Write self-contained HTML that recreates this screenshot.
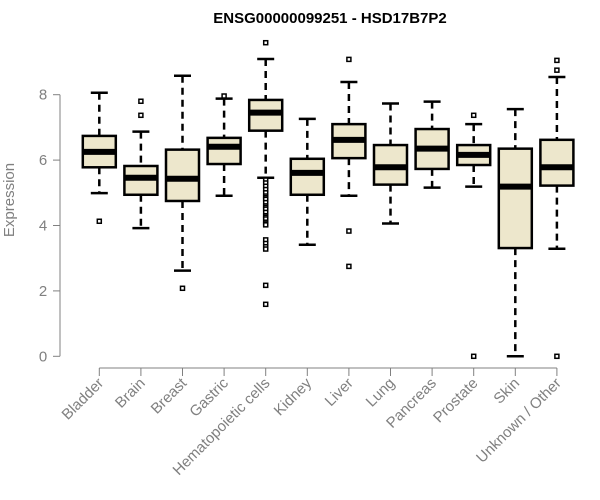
<!DOCTYPE html>
<html><head><meta charset="utf-8"><style>
body{margin:0;background:#fff;}
svg{display:block;font-family:"Liberation Sans",Arial,sans-serif;}
</style></head><body>
<svg id="chart" width="600" height="500" viewBox="0 0 600 500">
<text x="330" y="23" text-anchor="middle" font-size="15" font-weight="bold" fill="#000">ENSG00000099251 - HSD17B7P2</text>
<text transform="translate(14,200) rotate(-90)" text-anchor="middle" font-size="15" fill="#808080">Expression</text>
<g id="axes"></g><g id="boxes"></g>
</svg>
<script>
const categories=["Bladder","Brain","Breast","Gastric","Hematopoietic cells","Kidney","Liver","Lung","Pancreas","Prostate","Skin","Unknown / Other"];
const whiskerLow=[4.99,3.92,2.62,4.91,5.46,3.41,4.91,4.06,5.16,5.19,0,3.29];
const q1=[5.78,4.94,4.75,5.88,6.9,4.94,6.06,5.25,5.73,5.85,3.31,5.22];
const medians=[6.25,5.46,5.43,6.41,7.45,5.61,6.62,5.78,6.35,6.16,5.19,5.78];
const q3=[6.74,5.82,6.32,6.68,7.84,6.04,7.10,6.46,6.95,6.46,6.35,6.62];
const whiskerHigh=[8.06,6.87,8.58,7.88,9.09,7.26,8.39,7.73,7.79,7.10,7.56,8.54];
const outliers=[[4.13],[7.80,7.37],[2.08],[7.96],[9.59,5.39,5.3,5.2,5.1,5.0,4.9,4.85,4.8,4.7,4.6,4.55,4.5,4.4,4.3,4.25,4.2,4.1,4.05,4.02,3.56,3.45,3.35,3.28,2.17,1.59],[],[9.08,3.83,2.75],[],[],[7.37,0],[],[9.05,8.75,0]];
const yTicks=[0,2,4,6,8];
const NS="http://www.w3.org/2000/svg";
const axes=document.getElementById('axes'),boxes=document.getElementById('boxes');
function y(v){return 356.3-32.7*v;}
function x(i){return 99.3+41.6*i;}
function mk(tag,attrs,parent){const e=document.createElementNS(NS,tag);for(const k in attrs)e.setAttribute(k,attrs[k]);parent.appendChild(e);return e;}
let ya=mk('line',{x1:60,x2:60,y1:y(0),y2:y(8),stroke:'#808080'},axes);


yTicks.forEach(t=>{
 let l=mk('line',{x1:53,x2:60,y1:y(t),y2:y(t),stroke:'#808080'},axes);
 
 
 let tx=mk('text',{x:43,y:y(t)+5,'text-anchor':'middle','font-size':15,fill:'#808080'},axes);
 tx.textContent=t;
 
 
});
let xa=mk('line',{x1:x(0),x2:x(categories.length-1),y1:368,y2:368,stroke:'#808080'},axes);


categories.forEach((c,i)=>{
 let l=mk('line',{x1:x(i),x2:x(i),y1:368,y2:376,stroke:'#808080'},axes);
 
 
 let tx=mk('text',{transform:`translate(${x(i)+5},384) rotate(-45)`,'text-anchor':'end','font-size':15,fill:'#808080'},axes);
 tx.textContent=c;
 
 
});
categories.forEach((c,i)=>{
 const g=mk('g',{},boxes);
 
 
 const cx=x(i),hw=16.5,cw=8.5;
 mk('line',{x1:cx,x2:cx,y1:y(whiskerHigh[i]),y2:y(q3[i]),stroke:'#000','stroke-width':2.5,'stroke-dasharray':'7,5'},g);
 mk('line',{x1:cx,x2:cx,y1:y(q1[i]),y2:y(whiskerLow[i]),stroke:'#000','stroke-width':2.5,'stroke-dasharray':'7,5'},g);
 mk('line',{x1:cx-cw,x2:cx+cw,y1:y(whiskerHigh[i]),y2:y(whiskerHigh[i]),stroke:'#000','stroke-width':2.5},g);
 mk('line',{x1:cx-cw,x2:cx+cw,y1:y(whiskerLow[i]),y2:y(whiskerLow[i]),stroke:'#000','stroke-width':2.5},g);
 mk('rect',{x:cx-hw,y:y(q3[i]),width:2*hw,height:y(q1[i])-y(q3[i]),fill:'#ede7cc',stroke:'#000','stroke-width':2.5},g);
 mk('line',{x1:cx-hw,x2:cx+hw,y1:y(medians[i]),y2:y(medians[i]),stroke:'#000','stroke-width':6},g);
 outliers[i].forEach(v=>{
  const o=mk('rect',{x:cx-2,y:y(v)-2,width:4,height:4,fill:'#fff',stroke:'#000','stroke-width':1.5},g);
  
  
 });
});
</script>
</body></html>
